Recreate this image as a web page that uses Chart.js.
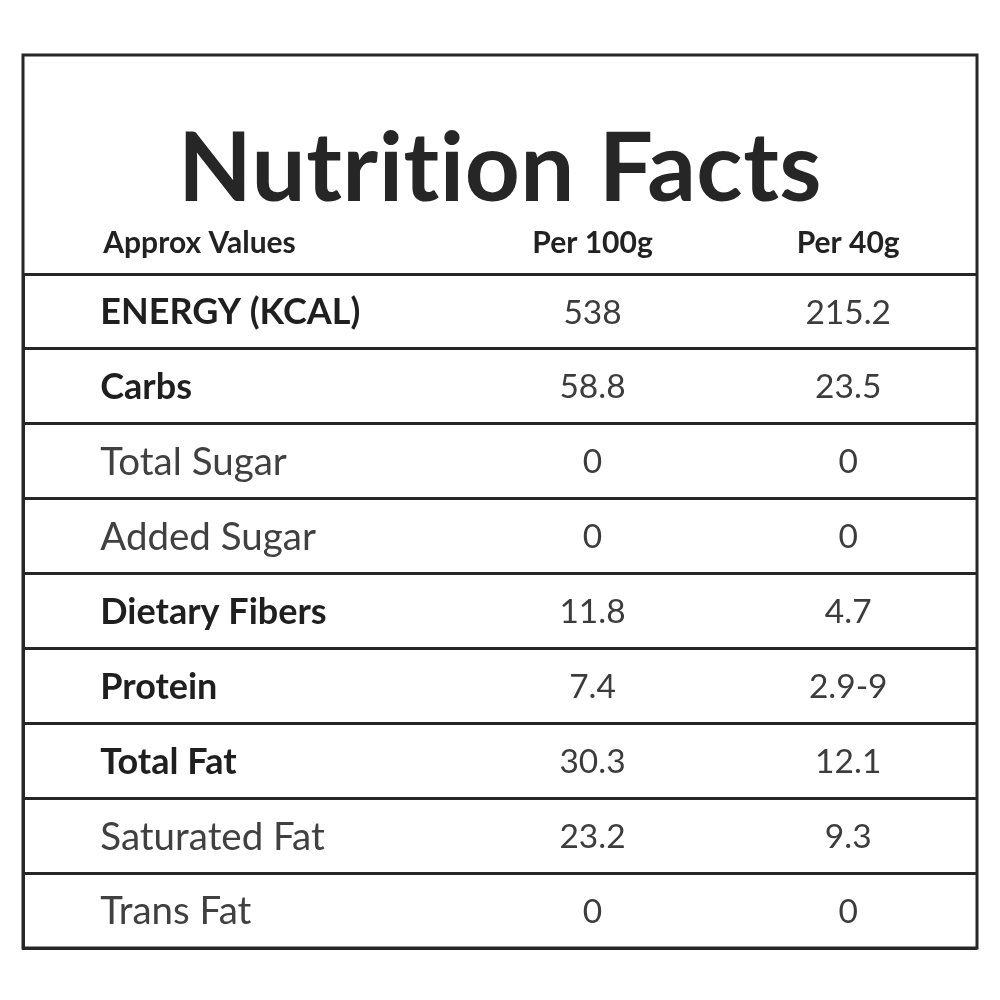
<!DOCTYPE html>
<html>
<head>
<meta charset="utf-8">
<script src="https://cdn.jsdelivr.net/npm/chart.js@4.4.1/dist/chart.umd.min.js"></script>
<style>
  html, body { margin: 0; padding: 0; background: #ffffff; }
  canvas { display: block; }
</style>
</head>
<body>
<canvas id="c" width="1000" height="1000"></canvas>
<script>
// ---------------- data ----------------
const title = 'Nutrition Facts';
const headers = ['Approx Values', 'Per 100g', 'Per 40g'];
const rowLabels = ['ENERGY (KCAL)', 'Carbs', 'Total Sugar', 'Added Sugar', 'Dietary Fibers',
                   'Protein', 'Total Fat', 'Saturated Fat', 'Trans Fat'];
const per100g = ['538', '58.8', '0', '0', '11.8', '7.4', '30.3', '23.2', '0'];
const per40g  = ['215.2', '23.5', '0', '0', '4.7', '2.9-9', '12.1', '9.3', '0'];

// ---------------- layout / style ----------------
const boldRows = new Set(['ENERGY (KCAL)', 'Carbs', 'Dietary Fibers', 'Protein', 'Total Fat']);
const COL_X = { label: 8.1, c1: 59.7, c2: 86.5 };   // positions on the x scale (0-100 = table width)
const FRAME_TOP = 55;
const TITLE_BASE = 201;
const HEADER_BASE = 253;
const LINE = '#262626';
const FONT = 'Lato, "Noto Sans", sans-serif';

function cellData(col, texts, align) {
  return rowLabels.map((r, i) => ({ x: col, y: r, text: texts[i], align }));
}

const datasets = [
  { label: 'Nutrient', data: cellData(COL_X.label, rowLabels, 'left') },
  { label: headers[1], data: cellData(COL_X.c1, per100g, 'center') },
  { label: headers[2], data: cellData(COL_X.c2, per40g, 'center') }
].map(d => Object.assign(d, { pointRadius: 0, pointHoverRadius: 0, showLine: false }));

const tablePlugin = {
  id: 'tableText',
  beforeDraw(chart) {
    const { ctx } = chart;
    ctx.save();
    ctx.fillStyle = '#ffffff';
    ctx.fillRect(0, 0, chart.width, chart.height);
    ctx.restore();
  },
  afterDraw(chart) {
    const { ctx, chartArea, scales } = chart;
    const xs = scales.x;
    ctx.save();
    // outer frame
    ctx.strokeStyle = LINE;
    ctx.lineWidth = 3;
    ctx.strokeRect(chartArea.left, FRAME_TOP, chartArea.right - chartArea.left, chartArea.bottom - FRAME_TOP);
    // title (small letter spacing also prevents the "ti" ligature)
    ctx.fillStyle = '#262626';
    ctx.textBaseline = 'alphabetic';
    ctx.textAlign = 'center';
    ctx.font = 'bold 96px ' + FONT;
    if ('letterSpacing' in ctx) ctx.letterSpacing = '0.5px';
    ctx.fillText(title, (chartArea.left + chartArea.right) / 2, TITLE_BASE);
    if ('letterSpacing' in ctx) ctx.letterSpacing = '0px';
    // headers
    ctx.font = 'bold 30px ' + FONT;
    ctx.fillStyle = '#222222';
    ctx.textAlign = 'left';
    ctx.fillText(headers[0], xs.getPixelForValue(COL_X.label) + 3, HEADER_BASE);
    ctx.textAlign = 'center';
    ctx.fillText(headers[1], xs.getPixelForValue(COL_X.c1), HEADER_BASE);
    ctx.fillText(headers[2], xs.getPixelForValue(COL_X.c2), HEADER_BASE);
    // cells
    chart.data.datasets.forEach((ds, di) => {
      const meta = chart.getDatasetMeta(di);
      meta.data.forEach((pt, i) => {
        const d = ds.data[i];
        let size, weight, color;
        if (di === 0) {
          const bold = boldRows.has(d.text);
          size = bold ? 36 : 38.5; weight = bold ? 'bold' : 'normal'; color = bold ? '#1f1f1f' : '#404040';
        } else {
          size = 33.5; weight = 'normal'; color = '#3c3c3c';
        }
        ctx.font = weight + ' ' + size + 'px ' + FONT;
        ctx.fillStyle = color;
        ctx.textAlign = d.align;
        ctx.fillText(d.text, pt.x, pt.y + size * 0.36);
      });
    });
    ctx.restore();
  }
};

new Chart(document.getElementById('c'), {
  type: 'scatter',
  data: { labels: rowLabels, datasets },
  options: {
    responsive: false,
    animation: false,
    events: [],
    layout: { padding: { top: 274, left: 23, right: 23, bottom: 52 } },
    plugins: { legend: { display: false }, tooltip: { enabled: false }, title: { display: false } },
    scales: {
      x: { type: 'linear', min: 0, max: 100, display: false },
      y: {
        type: 'category',
        labels: rowLabels,
        offset: true,
        ticks: { display: false },
        grid: { offset: true, drawTicks: false, color: LINE, lineWidth: 3 },
        border: { display: true, color: LINE, width: 3 }
      }
    }
  },
  plugins: [tablePlugin]
});
</script>
</body>
</html>
